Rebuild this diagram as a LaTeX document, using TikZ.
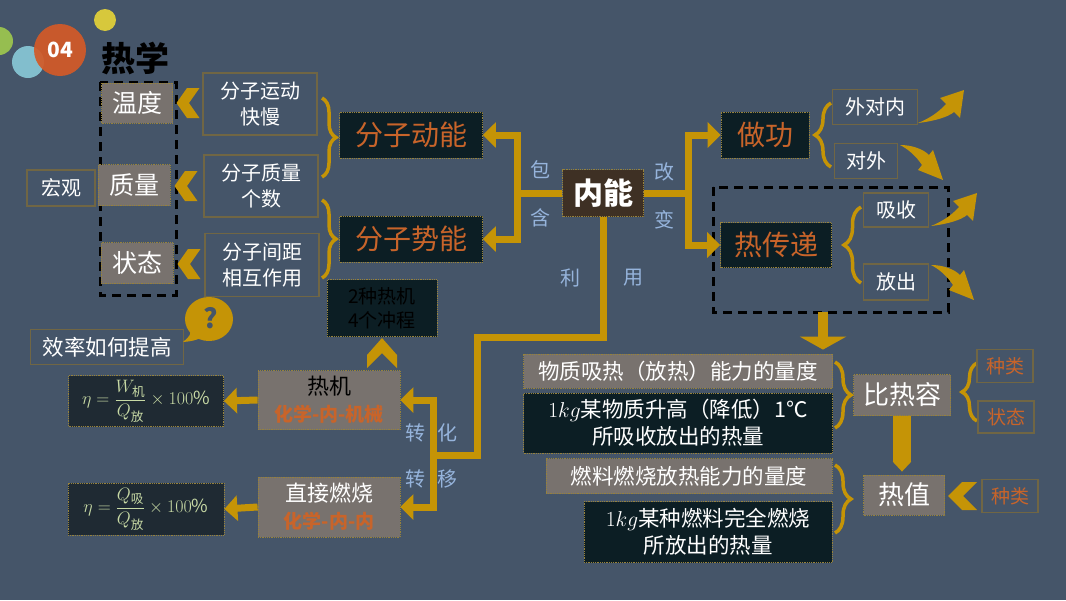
\RequirePackage{fix-cm}
\documentclass[tikz,border=0pt]{standalone}
\usepackage{fontspec}
\usepackage{amsmath}
\setmainfont{Noto Sans CJK SC}
\usetikzlibrary{arrows.meta,decorations.pathreplacing}
\definecolor{bg}{RGB}{69,85,105}
\definecolor{gold}{RGB}{197,148,6}
\definecolor{gfill}{RGB}{120,114,110}
\definecolor{dfill}{RGB}{12,30,36}
\definecolor{ffill}{RGB}{31,42,51}
\definecolor{olive}{RGB}{112,102,68}
\definecolor{dotc}{RGB}{150,130,60}
\definecolor{otext}{RGB}{200,100,42}
\definecolor{lblue}{RGB}{150,180,220}
\definecolor{ftext}{RGB}{200,218,165}
\definecolor{nbrown}{RGB}{62,48,36}
\definecolor{cgreen}{RGB}{150,190,80}
\definecolor{cblue}{RGB}{130,190,205}
\definecolor{corange}{RGB}{210,90,40}
\definecolor{cyellow}{RGB}{215,200,60}
\begin{document}
\begin{tikzpicture}[x=1pt,y=-1pt,
  wh/.style 2 args={minimum width=#1pt,minimum height=#2pt,inner sep=0pt},
  gbox/.style={fill=gfill,draw=dotc,densely dotted,line width=0.8pt,text=white},
  dbox/.style={fill=dfill,draw=dotc,densely dotted,line width=0.8pt},
  fbox/.style={fill=ffill,draw=dotc,densely dotted,line width=0.8pt,text=ftext},
  obox/.style={draw=olive,line width=1.2pt,text=white},
  lbl/.style={text=lblue,font=\fontsize{20}{24}\selectfont},
  fA/.style={font=\fontsize{20}{26}\selectfont},
  fB/.style={font=\fontsize{21.5}{27}\selectfont},
  fC/.style={font=\fontsize{25}{30}\selectfont},
  fD/.style={font=\fontsize{28}{32}\selectfont},
  gtip/.tip={Triangle[width=25pt,length=13pt]},
  conn/.style={draw=gold,line width=7pt,line join=miter},
  dashbox/.style={draw=black,line width=3pt,dash pattern=on 9pt off 6pt},
  gbrace/.style={draw=gold,line width=3.5pt,decorate,decoration={brace,amplitude=#1pt}},
  chevL/.pic={\fill[gold] (-11.5,0) -- (-1,-15) -- (11.5,-15) -- (1,0) -- (11.5,15) -- (-1,15) -- cycle;},
  swup/.pic={\fill[gold] (0,0) .. controls (17,-2) and (30,-6) .. (36,-11) -- (42,-5) -- (46,-33) -- (22,-25) -- (28,-19) .. controls (20,-10) and (10,-4) .. (0,0) -- cycle;},
  swdn/.pic={\fill[gold] (0,0) .. controls (12,0) and (23,4) .. (29,10) -- (33,5) -- (43,35) -- (18,25) -- (22,20) .. controls (16,11) and (8,4) .. (0,0) -- cycle;}
]
\useasboundingbox (0,0) rectangle (1066,600);
\fill[bg] (0,0) rectangle (1066,600);

% decoration circles
\fill[cgreen] (-1,41) circle (14pt);
\fill[cblue] (28,62) circle (16pt);
\fill[corange,opacity=0.93] (60,50) circle (26pt);
\fill[cyellow] (105,20) circle (11pt);
\node[text=white,font=\fontsize{21}{24}\selectfont\bfseries] (num) at (60,50) {04};
\node[text=black,font=\fontsize{34}{40}\selectfont\bfseries] (title) at (135,58) {热学};

% dashed boxes
\draw[dashbox] (100,82) rectangle (176,295);
\draw[dashbox] (713,187) rectangle (948,312);

% left column
\node[gbox,wh={71}{40},fC] (wendu) at (137,103) {温度};
\node[gbox,wh={72}{41},fC] (zhiliang) at (134,185) {质量};
\node[gbox,wh={72}{41},fC] (zhuangtai) at (137,263) {状态};
\node[obox,wh={68}{36},fA] (hongguan) at (61,188) {宏观};
\node[obox,wh={114}{62},fA,align=center] (fzyd) at (260,104) {分子运动\\快慢};
\node[obox,wh={114}{62},fA,align=center] (fzzl) at (261,186) {分子质量\\个数};
\node[obox,wh={114}{63},fA,align=center] (fzjj) at (262,265) {分子间距\\相互作用};
\pic at (188,103) {chevL};
\pic at (186,186) {chevL};
\pic at (189,264) {chevL};
\draw[gbrace=14] (322,98) -- (322,177);
\draw[gbrace=14] (322,200) -- (322,278);

% energy forms
\node[dbox,wh={143}{46},fD,text=otext] (fzdn) at (411,135) {分子动能};
\node[dbox,wh={143}{46},fD,text=otext] (fzsn) at (411,239) {分子势能};
\node[fill=nbrown,draw=dotc,densely dotted,line width=0.8pt,wh={81}{47},text=white,font=\fontsize{30}{34}\selectfont\bfseries] (neineng) at (603,193) {内能};

\coordinate (jL) at (517,193);
\draw[conn,gtip-gtip] (fzdn.east) -| (jL) |- (fzsn.east);
\draw[conn] (neineng.west) -- (jL);
\node[lbl] (l1) at (540,170) {包};
\node[lbl] (l2) at (540,218) {含};

% right: doing work / heat transfer
\node[dbox,wh={88}{46},fD,text=otext] (zuogong) at (765,135) {做功};
\node[dbox,wh={111}{45},fD,text=otext] (rcd) at (776,245) {热传递};
\coordinate (jR) at (688,193);
\draw[conn,gtip-gtip] (zuogong.west) -| (jR) |- (rcd.west);
\draw[conn] (neineng.east) -- (jR);
\node[lbl] (l3) at (664,172) {改};
\node[lbl] (l4) at (664,220) {变};

\node[obox,wh={85}{35},fA] (wdn) at (875,107) {外对内};
\node[obox,wh={63}{35},fA] (duiwai) at (866,161) {对外};
\node[obox,wh={65}{34},fA] (xishou) at (896,210) {吸收};
\node[obox,wh={65}{36},fA] (fangchu) at (896,282) {放出};
\draw[gbrace=16] (831,167) -- (831,103);
\draw[gbrace=17] (861,283) -- (861,207);
\pic at (918,123) {swup};
\pic at (900,145) {swdn};
\pic at (931,226) {swup};
\pic at (931,265) {swdn};

% utilisation
\node[lbl] (l5) at (570,278) {利};
\node[lbl] (l6) at (633,278) {用};
\node[gbox,wh={142}{59},align=center,text=black,font=\fontsize{22}{27}\selectfont] (reji) at (329,400) {热机\\{\fontsize{19}{24}\selectfont\bfseries\color{otext}化学-内-机械}};
\node[gbox,wh={142}{60},align=center,text=white,font=\fontsize{22}{27}\selectfont] (zjrs) at (329,507) {直接燃烧\\{\fontsize{19}{24}\selectfont\bfseries\color{otext}化学-内-内}};
\coordinate (jB) at (433,455);
\coordinate (c1) at (477,337);
\draw[conn] (neineng.south) |- (c1) |- (jB);
\draw[conn,gtip-gtip] (reji.east) -| (jB) |- (zjrs.east);
\node[lbl] (l7) at (415,433) {转};
\node[lbl] (l8) at (447,433) {化};
\node[lbl] (l9) at (415,479) {转};
\node[lbl] (l10) at (447,479) {移};

\node[dbox,wh={110}{57},align=center,text=black,font=\fontsize{19}{24}\selectfont] (rjcc) at (382,308) {2种热机\\4个冲程};
\fill[gold] (382,338) -- (397,355) -- (397,368) -- (382,353) -- (367,368) -- (367,355) -- cycle;

\node[fbox,wh={155}{51},font=\fontsize{18}{21}\selectfont] (f1) at (146,401) {$\eta=\dfrac{W_{\text{机}}}{Q_{\text{放}}}\times 100\%$};
\node[fbox,wh={156}{52},font=\fontsize{18}{21}\selectfont] (f2) at (146,509) {$\eta=\dfrac{Q_{\text{吸}}}{Q_{\text{放}}}\times 100\%$};
\draw[conn,-gtip] (reji.west) -- (f1.east);
\draw[conn,-gtip] (zjrs.west) -- (f2.east);

\node[obox,wh={153}{35},fB] (xlru) at (107,347) {效率如何提高};
\fill[gold] (209,319) ellipse [x radius=24pt, y radius=22pt];
\fill[gold] (190,326) .. controls (191,335) .. (183,342) .. controls (193,341) .. (204,337) -- cycle;
\node[text=bg,font=\fontsize{27}{30}\selectfont\bfseries] (qm) at (211,318) {?};

% specific heat / heat value
\coordinate (dstart) at (823,312);
\node[gbox,wh={309}{34},fB] (wzxr) at (678,371) {物质吸热（放热）能力的量度};
\node[dbox,wh={309}{60},fB,align=center,text=white] (kg1) at (678,423) {$1kg$某物质升高（降低）1℃\\所吸收放出的热量};
\node[gbox,wh={286}{35},fB] (rlrs) at (689,476) {燃料燃烧放热能力的量度};
\node[dbox,wh={248}{61},fB,align=center,text=white] (kg2) at (708,532) {$1kg$某种燃料完全燃烧\\所放出的热量};
\draw[gold,line width=10pt,-{Triangle[width=46pt,length=13pt]},shorten >=4pt] (dstart) -- (dstart |- wzxr.north);

\node[gbox,wh={97}{41},font=\fontsize{26}{30}\selectfont] (brr) at (902,395) {比热容};
\node[gbox,wh={81}{40},font=\fontsize{26}{30}\selectfont] (rezhi) at (904,495) {热值};
\draw[gold,line width=18pt,-{Triangle[width=18pt,length=10pt]},shorten >=3pt] (brr.south) -- (brr.south |- rezhi.north);
\draw[gbrace=16] (835,362) -- (835,428);
\draw[gbrace=16] (835,465) -- (835,533);
\draw[gbrace=15] (977,421) -- (977,363);
\node[obox,wh={56}{33},text=otext,font=\fontsize{19}{23}\selectfont] (zl1) at (1005,366) {种类};
\node[obox,wh={56}{32},text=otext,font=\fontsize{19}{23}\selectfont] (zt) at (1006,417) {状态};
\node[obox,wh={56}{33},text=otext,font=\fontsize{19}{23}\selectfont] (zl2) at (1010,496) {种类};
\fill[gold] (948,496) -- (962,482) -- (977,482) -- (963,496) -- (977,510) -- (962,510) -- cycle;
\end{tikzpicture}
\end{document}
